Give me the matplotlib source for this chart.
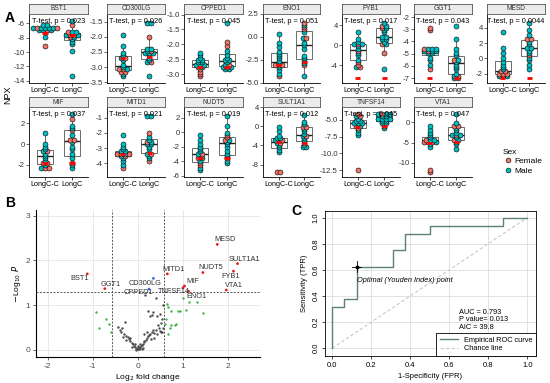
import numpy as np
import matplotlib
matplotlib.use('Agg')
import matplotlib.pyplot as plt
from matplotlib.lines import Line2D

plt.rcParams['font.family'] = ['Liberation Sans', 'DejaVu Sans']
plt.rcParams['axes.unicode_minus'] = False

W, H = 550, 383

# ---------------- panel A data (NPX values, C = LongC-C, L = LongC; M/F = sex)
GROUPS = ['LongC-C', 'LongC']
PROTEINS = ['BST1', 'CD300LG', 'CPPED1', 'ENO1', 'FYB1', 'GGT1', 'MESD',
            'MIF', 'MITD1', 'NUDT5', 'SULT1A1', 'TNFSF14', 'VTA1']
PVALUES = ['0.023', '0.026', '0.045', '0.051', '0.017', '0.043', '0.0044',
           '0.037', '0.021', '0.019', '0.012', '0.045', '0.047']

BST1_C_M = [-6.3, -6.4, -6.5, -6.5, -6.6, -6.6, -6.7, -6.8, -6.9, -7.0, -7.8]
BST1_C_F = [-6.5, -6.7, -6.9, -7.4, -9.1]
BST1_L_M = [-5.7, -7.2, -7.3, -7.5, -7.7, -7.9, -8.2, -8.5, -9.0, -9.8, -13.2]
BST1_L_F = [-6.4, -7.4, -7.6, -7.7, -8.0]
BST1_MEAN = [-7.3, -7.6]

CD300LG_C_M = [-1.93, -2.3, -2.5, -2.6, -2.8, -2.9, -3.0, -3.05, -3.2, -3.3, -2.7]
CD300LG_C_F = [-3.1, -3.1, -3.15, -3.12, -2.65]
CD300LG_L_M = [-1.55, -1.55, -2.35, -2.4, -2.45, -2.5, -2.5, -2.55, -2.6, -2.7, -2.8, -2.85, -3.3]
CD300LG_L_F = [-2.0, -2.45, -2.85]
CD300LG_MEAN = [-2.7, -2.65]

CPPED1_C_M = [-2.3, -2.4, -2.45, -2.5, -2.55, -2.6, -2.62, -2.65, -2.68, -2.7, -2.72]
CPPED1_C_F = [-2.75, -2.8, -2.9, -3.0, -3.1]
CPPED1_L_M = [-1.3, -2.25, -2.35, -2.45, -2.55, -2.6, -2.7, -2.72, -2.75, -2.8, -2.85, -2.5]
CPPED1_L_F = [-1.9, -2.1, -2.75, -2.7]
CPPED1_MEAN = [-2.75, -2.75]

ENO1_C_M = [0.3, -0.7, -1.1, -1.5, -1.8, -2.0, -2.3, -2.6, -3.1, -3.4, -3.7, -4.0]
ENO1_C_F = [-2.9, -3.0, -3.2, -4.4]
ENO1_L_M = [1.2, 0.5, -0.2, -0.7, -1.0, -1.3, -2.0, -2.3, -2.6, -2.9, -4.3]
ENO1_L_F = [1.5, 1.0, 0.9, -0.1, -3.0]
ENO1_MEAN = [-3.1, -2.8]

FYB1_C_M = [2.7, 1.3, 0.7, 0.3, 0.0, -0.3, -0.8, -1.5, -2.2, -2.8, -4.6]
FYB1_C_F = [0.2, -1.2, -3.5, -3.9, -4.2]
FYB1_L_M = [4.2, 4.1, 3.6, 2.8, 2.3, 1.8, 1.5, 1.3, 1.0, 0.6, 0.2, -4.9]
FYB1_L_F = [3.4, 3.9, 0.0, -1.8]
FYB1_MEAN = [-6.6, -6.6]

GGT1_C_M = [-4.5, -4.55, -4.6, -4.7, -4.75, -4.8, -4.9, -5.0, -5.3, -5.6, -5.9]
GGT1_C_F = [-2.95, -3.1, -4.65, -4.8, -6.2]
GGT1_L_M = [-2.65, -3.9, -4.5, -5.0, -5.2, -5.5, -5.7, -5.9, -6.1, -6.3, -6.6, -6.9, -6.95]
GGT1_L_F = [-5.6, -6.9, -6.95]
GGT1_MEAN = [-6.95, -6.95]

MESD_C_M = [3.3, 1.2, 0.6, 0.1, -0.4, -0.8, -1.2, -1.5, -2.2, -2.4]
MESD_C_F = [-1.7, -1.8, -1.9, -2.0, -2.1, -2.4]
MESD_L_M = [4.7, 3.8, 3.2, 2.2, 1.8, 1.4, 1.2, 1.0, 0.6, 0.2, -0.3, -0.9, -1.3]
MESD_L_F = [2.6, 2.4, 0.3]
MESD_MEAN = [-2.6, -2.6]

MIF_C_M = [1.2, -0.1, -0.3, -0.5, -0.7, -0.9, -1.1, -1.3, -1.6, -2.1, -2.4]
MIF_C_F = [-0.6, -1.8, -1.9, -2.3, -2.4]
MIF_L_M = [2.9, 1.8, 1.5, 0.8, 0.2, -0.2, -0.5, -1.0, -1.5, -2.0, -2.4]
MIF_L_F = [2.4, 1.3, 0.5, 0.4, -1.8]
MIF_MEAN = [-1.8, -1.8]

MITD1_C_M = [-2.1, -2.7, -2.95, -3.1, -3.2, -3.25, -3.3, -3.5, -3.7, -3.9, -4.1]
MITD1_C_F = [-3.3, -3.35, -3.4, -3.5, -4.35]
MITD1_L_M = [-0.9, -0.9, -2.3, -2.4, -2.55, -2.7, -2.8, -2.95, -3.1, -3.3, -3.5, -3.7]
MITD1_L_F = [-2.0, -2.6, -3.3, -3.9]
MITD1_MEAN = [-3.4, -3.3]

NUDT5_C_M = [-0.3, -1.1, -1.6, -2.0, -2.3, -2.6, -2.9, -3.2, -3.5, -4.0, -4.8, -5.1]
NUDT5_C_F = [-2.9, -3.6, -4.3, -4.5]
NUDT5_L_M = [2.3, 0.8, 0.0, -0.9, -1.3, -1.6, -2.0, -2.5, -3.0, -3.4, -3.8, -4.4]
NUDT5_L_F = [-0.4, -0.7, -3.5, -1.0]
NUDT5_MEAN = [-3.6, -3.5]

SULT1A1_C_M = [-0.1, -1.0, -1.8, -2.3, -2.6, -2.9, -3.2, -3.6, -4.0, -4.5, -5.0, -5.5]
SULT1A1_C_F = [-2.8, -3.3, -9.6, -9.6]
SULT1A1_L_M = [2.1, 1.0, 0.3, -0.8, -1.2, -1.6, -2.0, -2.5, -3.0, -3.9, -4.4, -4.4]
SULT1A1_L_F = [-0.3, 0.0, -3.5, -1.9]
SULT1A1_MEAN = [-3.4, -3.5]

TNFSF14_C_M = [-4.5, -4.8, -5.1, -5.3, -5.4, -5.5, -5.6, -5.8, -6.4, -6.9, -7.4]
TNFSF14_C_F = [-4.3, -4.4, -5.9, -6.1, -12.5]
TNFSF14_L_M = [-4.2, -4.2, -4.3, -4.5, -4.6, -4.8, -4.8, -4.9, -5.0, -5.1, -5.2, -5.4, -5.5, -6.2]
TNFSF14_L_F = [-4.25, -5.9]
TNFSF14_MEAN = [-6.0, -5.9]

VTA1_C_M = [-1.0, -1.8, -2.8, -3.2, -3.6, -4.0, -4.3, -4.6, -5.4, -6.0]
VTA1_C_F = [-4.4, -4.9, -5.0, -5.1, -11.8, -12.3]
VTA1_L_M = [2.0, 0.0, -1.3, -2.0, -2.5, -3.0, -3.4, -3.8, -4.3, -4.8, -5.5, -6.5]
VTA1_L_F = [-0.8, -0.6, -3.2, -4.5]
VTA1_MEAN = [-5.0, -4.8]

# ---------------- panel B data (volcano)
LABELS_B = ['BST1', 'GGT1', 'MITD1', 'MIF', 'TNFSF14', 'ENO1', 'NUDT5',
            'MESD', 'SULT1A1', 'FYB1', 'VTA1', 'CD300LG', 'CPPED1']
LFC_B = [-1.12, -0.73, 0.66, 1.04, 1.01, 1.13, 1.45, 1.77, 2.22, 2.13, 1.97, 0.35, 0.25]
LOGP_B = [1.70, 1.37, 1.70, 1.43, 1.39, 1.31, 1.73, 2.36, 1.93, 1.76, 1.34, 1.60, 1.36]
SIG_BOTH = [True] * 11 + [False, False]

GREEN_X = [-0.93, -0.85, -0.70, -0.64, -0.60, 0.65, 0.68, 0.75, 0.90, 0.95, 1.00,
           1.08, 1.15, 1.33, 1.45, 0.75, 0.72, 0.83, 0.85, 0.67, 0.62, 0.60]
GREEN_Y = [0.85, 0.50, 0.68, 0.58, 0.40, 1.02, 0.95, 0.88, 0.88, 0.88, 1.15,
           0.90, 1.07, 1.07, 0.82, 0.55, 0.50, 0.55, 0.58, 0.35, 0.68, 0.58]

GRAY_X = [0.00, 0.02, -0.02, 0.05, -0.05, 0.08, -0.08, 0.10, -0.10, 0.12, -0.13, 0.15,
          -0.16, 0.18, -0.19, 0.20, -0.22, 0.23, -0.25, 0.25, -0.27, 0.28, -0.30, 0.30,
          0.32, -0.33, 0.35, -0.35, 0.37, 0.40, -0.40, 0.42, 0.45, -0.28, 0.48, 0.50,
          0.52, 0.55, 0.57, 0.55, 0.50, 0.42, 0.35, 0.28, 0.15, -0.06, 0.06, 0.00,
          -0.03, 0.03, 0.17, 0.40, 0.24, 0.31, 0.57, 0.53, 0.20, 0.13, -0.43, -0.38,
          -0.17, 0.36, -0.12, 0.09, -0.04, 0.04, 0.11]
GRAY_Y = [0.02, 0.03, 0.04, 0.05, 0.06, 0.08, 0.09, 0.10, 0.12, 0.14, 0.15, 0.18,
          0.20, 0.22, 0.24, 0.26, 0.28, 0.30, 0.22, 0.33, 0.32, 0.36, 0.35, 0.25,
          0.40, 0.28, 0.44, 0.50, 0.38, 0.45, 0.45, 0.35, 0.55, 0.62, 0.50, 0.42,
          0.60, 0.40, 0.48, 0.70, 0.80, 0.75, 0.85, 0.75, 0.35, 0.14, 0.12, 0.08,
          0.00, 0.01, 1.22, 1.15, 0.86, 0.78, 1.00, 0.41, 0.41, 0.19, 0.52, 0.41,
          0.26, 0.26, 0.06, 0.03, 0.01, 0.07, 0.05]

# ---------------- panel C data (ROC)
FPR = [0.0, 0.0, 0.0625, 0.0625, 0.125, 0.125, 0.3125, 0.3125, 0.375, 0.375,
       0.5, 0.5, 0.875, 0.875, 1.0]
TPR = [0.0, 0.3125, 0.3125, 0.375, 0.375, 0.625, 0.625, 0.75, 0.75, 0.875,
       0.875, 0.9375, 0.9375, 1.0, 1.0]
YOUDEN = (0.125, 0.625)
ROC_TEXT = 'AUC = 0.793\nP value= 0.013\nAIC = 39.8'

# ---------------- layout (pixels)
POS_A = {'BST1': (29, 88, 0), 'CD300LG': (107, 165, 0), 'CPPED1': (184, 243, 0),
         'ENO1': (263, 320, 0), 'FYB1': (342, 400, 0), 'GGT1': (414, 472, 0),
         'MESD': (487, 545, 0), 'MIF': (29, 88, 1), 'MITD1': (107, 165, 1),
         'NUDT5': (184, 243, 1), 'SULT1A1': (263, 320, 1), 'TNFSF14': (342, 400, 1),
         'VTA1': (414, 472, 1)}
YLIM_A = {'BST1': ((-14.3, -4.7), [-14, -12, -10, -8, -6]),
          'CD300LG': ((-3.52, -1.25), [-3.5, -3.0, -2.5, -2.0, -1.5]),
          'CPPED1': ((-3.3, -0.98), [-3.0, -2.5, -2.0, -1.5, -1.0]),
          'ENO1': ((-5.05, 2.3), [-5.0, -2.5, 0.0, 2.5]),
          'FYB1': ((-7.6, 6.2), [-4, 0, 4]),
          'GGT1': ((-7.4, -1.75), [-7, -6, -5, -4, -3, -2]),
          'MESD': ((-3.2, 5.8), [-2, 0, 2, 4]),
          'MIF': ((-3.2, 3.6), [-2, 0, 2]),
          'MITD1': ((-4.9, -0.3), [-4, -3, -2, -1]),
          'NUDT5': ((-6.2, 3.5), [-6, -4, -2, 0, 2]),
          'SULT1A1': ((-10.6, 3.7), [-8, -4, 0, 4]),
          'TNFSF14': ((-13.5, -3.1), [-12.5, -10.0, -7.5, -5.0]),
          'VTA1': ((-13.5, 3.8), [-10, -5, 0])}
ROWS_Y = [(4, 14, 83), (97, 107, 177)]

FEMALE = '#F0756B'
MALE = '#00BFC4'

fig = plt.figure(figsize=(W / 100, H / 100), dpi=100)


def px_axes(x0, y0, x1, y1):
    return fig.add_axes([x0 / W, 1 - y1 / H, (x1 - x0) / W, (y1 - y0) / H])


def dots(ax, xc, male, female, ylo, yhi):
    vals = [(v, MALE) for v in male] + [(v, FEMALE) for v in female]
    vals.sort(key=lambda t: t[0])
    bw = (yhi - ylo) / 30
    bins = {}
    for v, c in vals:
        k = int(round((v - ylo) / bw))
        bins.setdefault(k, []).append(c)
    for k, cols in bins.items():
        n = len(cols)
        for i, c in enumerate(cols):
            x = xc + (i - (n - 1) / 2) * 0.15
            ax.scatter(x, ylo + k * bw, s=13, color=c, edgecolor='black',
                       linewidth=0.4, zorder=3)


# ---------------- panel A
for name, p in zip(PROTEINS, PVALUES):
    x0, x1, row = POS_A[name]
    ys, yt, yb = ROWS_Y[row]
    cm, cf = globals()[name + '_C_M'], globals()[name + '_C_F']
    lm, lf = globals()[name + '_L_M'], globals()[name + '_L_F']
    means = globals()[name + '_MEAN']
    (ylo, yhi), ticks = YLIM_A[name]

    ax = px_axes(x0, yt, x1, yb)
    ax.boxplot([cm + cf, lm + lf], positions=[1, 2], widths=0.62, showfliers=False,
               patch_artist=True,
               boxprops=dict(facecolor='white', edgecolor='#555555', linewidth=0.6),
               medianprops=dict(color='#222222', linewidth=1.0),
               whiskerprops=dict(color='#555555', linewidth=0.6),
               capprops=dict(linewidth=0))
    dots(ax, 1, cm, cf, ylo, yhi)
    dots(ax, 2, lm, lf, ylo, yhi)
    for xc, m in zip([1, 2], means):
        ax.plot([xc - 0.1, xc + 0.1], [m, m], color='red', lw=2,
                solid_capstyle='butt', zorder=4)
    ax.set_xlim(0.4, 2.6)
    ax.set_ylim(ylo, yhi)
    ax.set_yticks(ticks)
    ax.set_xticks([1, 2])
    ax.set_xticklabels(GROUPS, fontsize=5.2)
    ax.tick_params(axis='y', labelsize=5.6, colors='#333333', length=2, width=0.5, pad=1)
    ax.tick_params(axis='x', length=2, width=0.5, pad=1)
    for sp in ['top', 'right']:
        ax.spines[sp].set_visible(False)
    for sp in ['left', 'bottom']:
        ax.spines[sp].set_linewidth(0.6)
    ax.text(0.5, 0.89, 'T-test, p = ' + p, transform=ax.transAxes,
            ha='center', va='center', fontsize=5.3, zorder=5)

    st = px_axes(x0, ys, x1, yt)
    st.set_facecolor('#EBEBEB')
    st.set_xticks([])
    st.set_yticks([])
    for sp in st.spines.values():
        sp.set_color('#555555')
        sp.set_linewidth(0.6)
    st.text(0.5, 0.5, name, ha='center', va='center', fontsize=4.8, color='#333333')

fig.text(8 / W, 1 - 95 / H, 'NPX', rotation=90, ha='center', va='center', fontsize=6.5)
handles = [Line2D([], [], marker='o', ls='', markersize=3.5, markerfacecolor=FEMALE,
                  markeredgecolor='black', markeredgewidth=0.4),
           Line2D([], [], marker='o', ls='', markersize=3.5, markerfacecolor=MALE,
                  markeredgecolor='black', markeredgewidth=0.4)]
leg = fig.legend(handles, ['Female', 'Male'], title='Sex', loc='upper left',
                 bbox_to_anchor=(497 / W, 1 - 143 / H), frameon=False, fontsize=6,
                 title_fontsize=6, handletextpad=0.2, labelspacing=0.2,
                 borderpad=0.2, handlelength=1.2)
leg._legend_box.align = 'left'

# ---------------- panel B
axb = px_axes(36, 210, 260, 357)
axb.set_xlim(-2.26, 2.72)
axb.set_ylim(-0.16, 3.13)
axb.set_xticks([-2, -1, 0, 1, 2])
axb.set_yticks([0, 1, 2, 3])
axb.grid(True, color='#E5E5E5', lw=0.6)
axb.set_axisbelow(True)
for sp in ['top', 'right']:
    axb.spines[sp].set_visible(False)
for sp in ['left', 'bottom']:
    axb.spines[sp].set_linewidth(0.8)
axb.tick_params(labelsize=6, colors='#4D4D4D', length=2.5, width=0.6, pad=1.5)
axb.scatter(GRAY_X, GRAY_Y, s=3, color='#4D4D4D', lw=0, zorder=3)
axb.scatter(GREEN_X, GREEN_Y, s=3, color='#3CB44B', lw=0, zorder=3)
cols_b = ['#E8191C' if s else '#4169E1' for s in SIG_BOTH]
axb.scatter(LFC_B, LOGP_B, s=4, color=cols_b, lw=0, zorder=3)
for xv in [-0.58, 0.58]:
    axb.axvline(xv, color='#555555', lw=0.7, ls=(0, (2, 1.5)), zorder=2)
axb.axhline(1.3, color='#555555', lw=0.7, ls=(0, (2, 1.5)), zorder=2)
LABEL_POS_B = {'BST1': (-1.30, 1.60), 'GGT1': (-0.60, 1.46), 'MITD1': (0.80, 1.79),
               'MIF': (1.22, 1.54), 'TNFSF14': (0.80, 1.30), 'ENO1': (1.31, 1.19),
               'NUDT5': (1.62, 1.85), 'MESD': (1.94, 2.46), 'SULT1A1': (2.38, 2.03),
               'FYB1': (2.06, 1.65), 'VTA1': (2.15, 1.43), 'CD300LG': (0.16, 1.49),
               'CPPED1': (0.02, 1.29)}
for lab in LABELS_B:
    tx, ty = LABEL_POS_B[lab]
    axb.text(tx, ty, lab, fontsize=5.3, color='#333333', ha='center', va='center', zorder=4)
axb.set_xlabel('Log$_{2}$ fold change', fontsize=6, labelpad=2)
axb.set_ylabel('$-$Log$_{10}$ $\\it{P}$', fontsize=6, labelpad=2)

# ---------------- panel C
axc = px_axes(325, 211, 536, 356)
axc.set_xlim(-0.037, 1.045)
axc.set_ylim(-0.059, 1.051)
axc.set_xticks(np.arange(0, 1.01, 0.2))
axc.set_yticks(np.arange(0, 1.01, 0.2))
axc.set_xticklabels(['0.0', '0.2', '0.4', '0.6', '0.8', '1.0'])
axc.set_yticklabels(['0.0', '0.2', '0.4', '0.6', '0.8', '1.0'], rotation=90, va='center')
axc.grid(True, color='#DDDDDD', lw=0.6)
axc.set_axisbelow(True)
axc.tick_params(labelsize=5.5, length=2.5, width=0.5, pad=1.5)
for sp in axc.spines.values():
    sp.set_linewidth(0.6)
axc.plot([0, 1], [0, 1], color='#C8C8C8', lw=0.8, ls=(0, (3, 2)), label='Chance line', zorder=2)
axc.plot(FPR, TPR, color='#5E7F7C', lw=1.0, label='Empirical ROC curve', zorder=3)
ox, oy = YOUDEN
axc.plot([ox - 0.025, ox + 0.025], [oy, oy], color='black', lw=0.6, zorder=4)
axc.plot([ox, ox], [oy - 0.04, oy + 0.04], color='black', lw=0.6, zorder=4)
axc.plot([ox], [oy], marker='o', ms=1.8, color='black', zorder=4)
axc.text(ox + 0.003, oy - 0.105, 'Optimal (Youden Index) point', fontsize=5.3,
         style='italic', ha='left', va='center')
axc.text(0.652, 0.30, ROC_TEXT, fontsize=5.3, ha='left', va='top', linespacing=1.05)
h, l = axc.get_legend_handles_labels()
axc.legend(h[::-1], l[::-1], loc='lower right', fontsize=5.3, frameon=True, fancybox=False,
           edgecolor='black', framealpha=1, borderaxespad=0, handlelength=2.5,
           borderpad=0.5, labelspacing=0.2).get_frame().set_linewidth(0.6)
axc.set_xlabel('1-Specificity (FPR)', fontsize=5.5, labelpad=3)
axc.set_ylabel('Sensitivity (TPR)', fontsize=5.5, labelpad=3)

# panel letters
fig.text(5 / W, 1 - 18 / H, 'A', fontsize=10, fontweight='bold', va='center')
fig.text(5 / W, 1 - 203 / H, 'B', fontsize=10, fontweight='bold', va='center')
fig.text(291 / W, 1 - 211 / H, 'C', fontsize=10, fontweight='bold', va='center')

fig.savefig('out.png', dpi=100)
